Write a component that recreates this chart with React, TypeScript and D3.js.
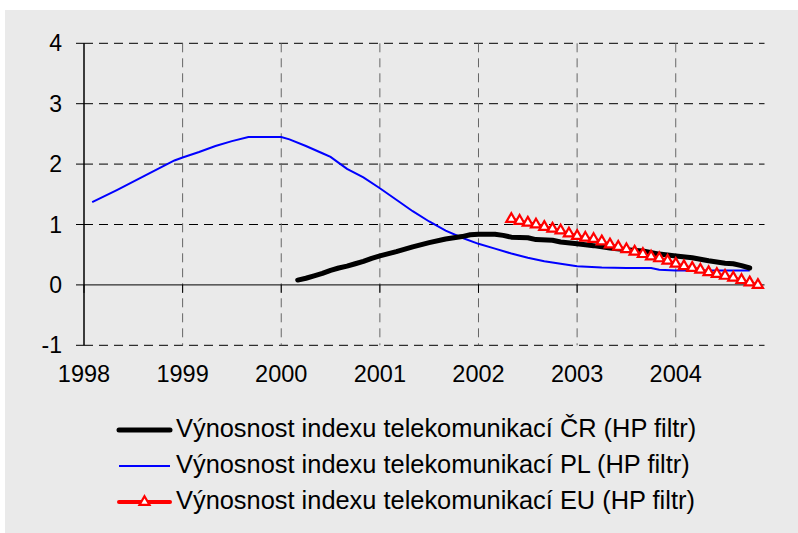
import * as d3 from "d3";
import React from "react";

// decimal years (year + (month-1)/12) and values
const plDates = [
  1998.083, 1998.333, 1998.583, 1998.75, 1998.917, 1999.0, 1999.167, 1999.333,
  1999.5, 1999.667, 1999.833, 2000.0, 2000.083, 2000.25, 2000.417, 2000.5,
  2000.583, 2000.667, 2000.833, 2001.0, 2001.167, 2001.333, 2001.5, 2001.667,
  2001.833, 2002.0, 2002.167, 2002.333, 2002.5, 2002.667, 2002.833, 2003.0,
  2003.25, 2003.5, 2003.75, 2003.833, 2004.0, 2004.25, 2004.5, 2004.75
];
const plValues = [
  1.37, 1.57, 1.78, 1.92, 2.06, 2.11, 2.2, 2.3,
  2.38, 2.45, 2.45, 2.45, 2.41, 2.3, 2.18, 2.12,
  2.02, 1.92, 1.78, 1.6, 1.41, 1.22, 1.05, 0.9,
  0.78, 0.68, 0.6, 0.52, 0.45, 0.39, 0.35, 0.31,
  0.29, 0.28, 0.28, 0.25, 0.24, 0.24, 0.24, 0.24
];

const crDates = [
  2000.167, 2000.25, 2000.333, 2000.417, 2000.5, 2000.583, 2000.667, 2000.75,
  2000.833, 2000.917, 2001.0, 2001.167, 2001.333, 2001.5, 2001.667, 2001.833,
  2001.917, 2002.0, 2002.167, 2002.25, 2002.333, 2002.5, 2002.583, 2002.75,
  2002.833, 2003.0, 2003.167, 2003.333, 2003.5, 2003.667, 2003.833, 2004.0,
  2004.167, 2004.333, 2004.5, 2004.583, 2004.667, 2004.75
];
const crValues = [
  0.08, 0.11, 0.15, 0.19, 0.24, 0.28, 0.31, 0.35,
  0.39, 0.44, 0.48, 0.55, 0.63, 0.7, 0.76, 0.8,
  0.83, 0.84, 0.84, 0.82, 0.79, 0.78, 0.75, 0.74,
  0.71, 0.68, 0.65, 0.61, 0.58, 0.56, 0.51, 0.48,
  0.45, 0.4, 0.36, 0.35, 0.32, 0.28
];

// EU: monthly, May 2002 .. Nov 2004
const euDates = [
  2002.333, 2002.417, 2002.5, 2002.583, 2002.667, 2002.75, 2002.833, 2002.917,
  2003.0, 2003.083, 2003.167, 2003.25, 2003.333, 2003.417, 2003.5, 2003.583,
  2003.667, 2003.75, 2003.833, 2003.917, 2004.0, 2004.083, 2004.167, 2004.25,
  2004.333, 2004.417, 2004.5, 2004.583, 2004.667, 2004.75, 2004.833
];
const euValues = [
  1.09, 1.06, 1.03, 1.0, 0.96, 0.93, 0.9, 0.85,
  0.81, 0.78, 0.76, 0.72, 0.67, 0.63, 0.59, 0.55,
  0.51, 0.47, 0.44, 0.4, 0.35, 0.31, 0.28, 0.25,
  0.21, 0.18, 0.15, 0.12, 0.08, 0.04, 0.0
];

const yearTicks = [1998, 1999, 2000, 2001, 2002, 2003, 2004];
const valueTicks = [-1, 0, 1, 2, 3, 4];
const legendLabels = [
  "Výnosnost indexu telekomunikací ČR (HP filtr)",
  "Výnosnost indexu telekomunikací PL (HP filtr)",
  "Výnosnost indexu telekomunikací EU (HP filtr)"
];

const font = "'Liberation Sans', Arial, sans-serif";

export default function App() {
  const width = 798;
  const height = 533;

  const x = d3.scaleLinear().domain([1998, 2004.9]).range([84, 764.5]);
  const y = d3.scaleLinear().domain([-1, 4]).range([345.3, 43.3]);

  const line = d3
    .line<[number, number]>()
    .x((d) => x(d[0]))
    .y((d) => y(d[1]));

  const pl = plDates.map((d, i) => [d, plValues[i]] as [number, number]);
  const cr = crDates.map((d, i) => [d, crValues[i]] as [number, number]);
  const eu = euDates.map((d, i) => [d, euValues[i]] as [number, number]);

  const tri = d3.symbol(d3.symbolTriangle, 44)();

  const legendY = [430, 466, 502];

  return (
    <svg
      width={width}
      height={height}
      style={{ position: "absolute", left: 0, top: 0 }}
      fontFamily={font}
    >
      <rect x={0} y={0} width={width} height={height} fill="#fff" />
      <rect x={5} y={10} width={width - 5} height={height - 10} fill="#eaeaea" />

      {/* horizontal grid */}
      {valueTicks
        .filter((v) => v !== 0)
        .map((v) => (
          <line
            key={v}
            x1={x(1998)}
            x2={x(2004.9)}
            y1={y(v)}
            y2={y(v)}
            stroke="#000"
            strokeWidth={1}
            strokeDasharray="9,6"
          />
        ))}
      {/* vertical grid */}
      {yearTicks.slice(1).map((t) => (
        <line
          key={t}
          x1={x(t)}
          x2={x(t)}
          y1={y(4)}
          y2={y(-1)}
          stroke="#666"
          strokeWidth={1}
          strokeDasharray="9,6"
        />
      ))}

      {/* axes */}
      <line x1={x(1998)} x2={x(1998)} y1={y(4)} y2={y(-1)} stroke="#000" strokeWidth={1.5} />
      <line x1={x(1998)} x2={x(2004.9)} y1={y(0)} y2={y(0)} stroke="#000" strokeWidth={1} />
      {valueTicks.map((v) => (
        <g key={v}>
          <line x1={x(1998) - 8} x2={x(1998)} y1={y(v)} y2={y(v)} stroke="#000" strokeWidth={1} />
          <text
            x={62}
            y={y(v)}
            dy="0.35em"
            textAnchor="end"
            fontSize={23}
            fill="#000"
          >
            {v}
          </text>
        </g>
      ))}
      {yearTicks.map((t) => (
        <g key={t}>
          <line x1={x(t)} x2={x(t)} y1={y(0)} y2={y(0) + 8} stroke="#000" strokeWidth={1} />
          <text x={x(t)} y={382} textAnchor="middle" fontSize={23.5} fill="#000">
            {t}
          </text>
        </g>
      ))}

      {/* series */}
      <path d={line(pl) ?? ""} fill="none" stroke="#0000ff" strokeWidth={2} />
      <path
        d={line(cr) ?? ""}
        fill="none"
        stroke="#000"
        strokeWidth={5}
        strokeLinecap="round"
        strokeLinejoin="round"
      />
      <path d={line(eu) ?? ""} fill="none" stroke="#ff0000" strokeWidth={3} />
      <g fill="#fff" stroke="#ff0000" strokeWidth={2.2}>
        {eu.map((d, i) => (
          <path key={i} d={tri ?? ""} transform={`translate(${x(d[0])},${y(d[1])})`} />
        ))}
      </g>

      {/* legend */}
      <line x1={119} x2={170} y1={legendY[0]} y2={legendY[0]} stroke="#000" strokeWidth={5} strokeLinecap="round" />
      <line x1={119} x2={170} y1={legendY[1]} y2={legendY[1]} stroke="#0000ff" strokeWidth={2} />
      <line x1={119} x2={170} y1={legendY[2]} y2={legendY[2]} stroke="#ff0000" strokeWidth={4} strokeLinecap="round" />
      <path
        d={tri ?? ""}
        transform={`translate(144.5,${legendY[2]})`}
        fill="#fff"
        stroke="#ff0000"
        strokeWidth={2.2}
      />
      {legendLabels.map((l, i) => (
        <text key={i} x={176} y={legendY[i] + 7} fontSize={25.4} fill="#000">
          {l}
        </text>
      ))}
    </svg>
  );
}
